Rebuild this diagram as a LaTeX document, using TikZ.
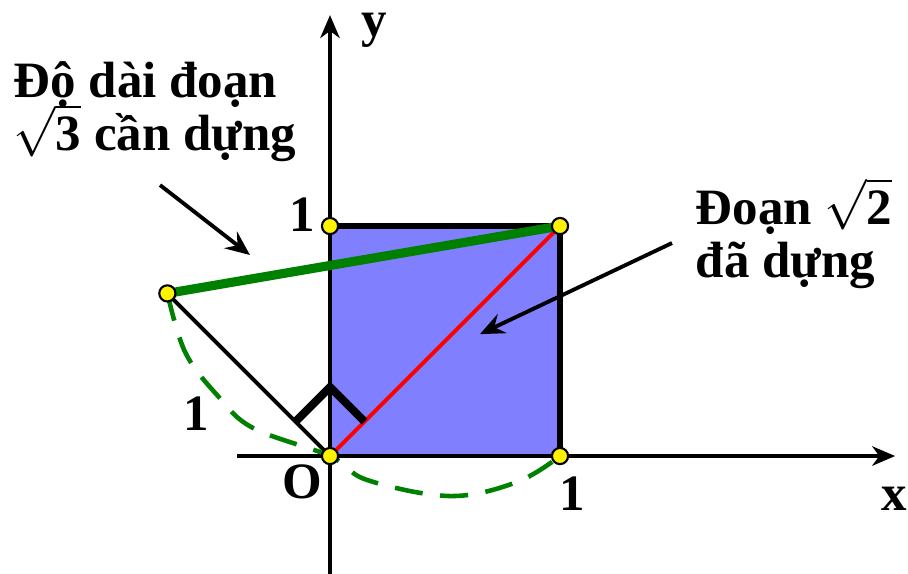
\documentclass[tikz,border=0pt]{standalone}
\usepackage{fontspec}
\setmainfont{Liberation Serif}
\usetikzlibrary{arrows.meta}
\newcommand\notefont{\fontsize{14.5}{15.1}\selectfont\bfseries\lineskiplimit -20pt\relax\lineskip 0pt\relax}
\begin{document}
\begin{tikzpicture}[
    x=2.3cm, y=2.3cm,
    line cap=butt,
    line join=miter,
    axis/.style={draw=black, line width=1.4pt, -{Stealth[length=6.5pt,width=5.5pt,inset=2pt]}},
    side/.style={draw=black, line width=1.7pt},
    diag/.style={draw=red, line width=1.1pt},
    turned/.style={draw=black, line width=1.1pt},
    corner/.style={draw=black, line width=2.3pt},
    target/.style={draw=green!50!black, line width=2.6pt},
    arcline/.style={draw=green!50!black, line width=1.3pt, dash pattern=on 8pt off 5pt},
    pointer/.style={draw=black, line width=1.1pt, -{Stealth[length=7pt,width=6pt,inset=2.5pt]}},
    vertex/.style={circle, fill=yellow, draw=black, line width=0.6pt, inner sep=0pt, minimum size=4.6pt},
    lbl/.style={font=\fontsize{14.5}{15}\selectfont\bfseries, inner sep=0pt},
    note/.style={font=\notefont, inner sep=0pt, align=left}
]
\useasboundingbox (-1.4348,-0.5087) rectangle (2.5130,1.9826);

  \coordinate (O) at (0,0);
  \coordinate (B) at (1,0);
  \coordinate (A) at (0,1);
  \coordinate (C) at (1,1);
  \coordinate (L) at (-0.7071,0.7071);

  % square
  \fill[blue!50] (O) rectangle (C);

  % axes
  \coordinate (xs) at (-0.404,0);
  \coordinate (xe) at (2.457,0);
  \coordinate (ys) at (0,-0.52);
  \coordinate (ye) at (0,1.917);
  \draw[axis] (xs) -- (xe);
  \draw[axis] (ys) -- (ye);

  \draw[side] (A) -- (C) -- (B);
  \draw[diag] (O) -- (C);
  \draw[turned] (O) -- (L);
  \draw[corner] (-0.15,0.15) -- (0,0.3) -- (0.15,0.15);
  \draw[target] (L) -- (C);

  \draw[arcline] plot[smooth, tension=0.6] coordinates {(L) (-0.63,0.452) (-0.491,0.265) (-0.335,0.122) (O) (0.161,-0.104) (0.522,-0.174) (0.813,-0.113) (B)};

  \node[vertex] at (O) {};
  \node[vertex] at (B) {};
  \node[vertex] at (A) {};
  \node[vertex] at (C) {};
  \node[vertex] at (L) {};

  % labels
  \node[lbl, anchor=base] (ylbl) at (0.191,1.826) {y};
  \node[lbl, anchor=base] (xlbl) at (2.452,-0.235) {x};
  \node[lbl, anchor=base] (onex) at (1.052,-0.235) {1};
  \node[lbl, anchor=base] (oney) at (-0.12,0.974) {1};
  \node[lbl, anchor=base] (onel) at (-0.583,0.113) {1};
  \node[lbl, anchor=base] (olbl) at (-0.12,-0.183) {O};

  \node[note, anchor=base west] (need) at (-1.378,1.330) {Độ dài đoạn\\$\sqrt{\mbox{3}}$ cần dựng};
  \node[note, anchor=base west] (done) at (1.587,0.778) {Đoạn $\sqrt{\mbox{2}}$\\đã dựng};

  \coordinate (p1) at (-0.739,1.178);
  \coordinate (q1) at (-0.348,0.874);
  \coordinate (p2) at (1.487,0.926);
  \coordinate (q2) at (0.652,0.530);
  \draw[pointer] (p1) -- (q1);
  \draw[pointer] (p2) -- (q2);
\end{tikzpicture}
\end{document}
